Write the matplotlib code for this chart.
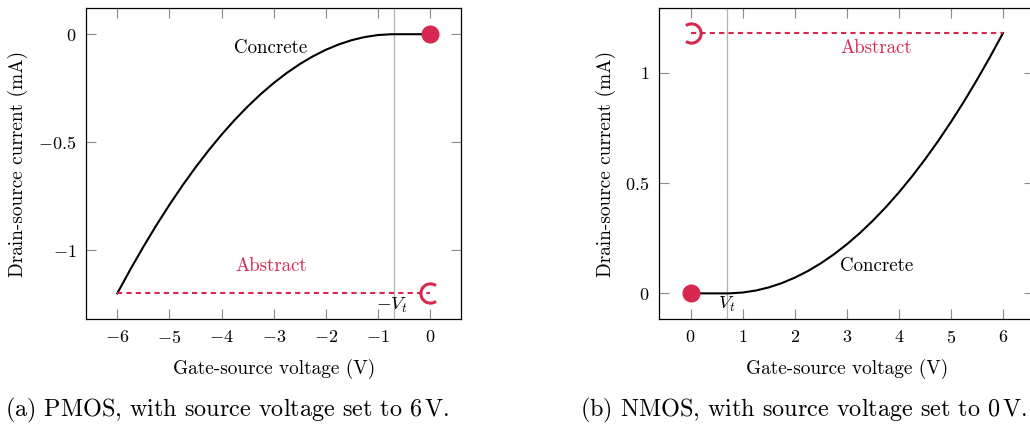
import matplotlib
matplotlib.use("Agg")
import matplotlib.pyplot as plt
from matplotlib.path import Path

plt.rcParams['font.family'] = 'serif'
plt.rcParams['font.serif'] = ['cmr10']
plt.rcParams['mathtext.fontset'] = 'cm'
plt.rcParams['axes.formatter.use_mathtext'] = True
plt.rcParams['axes.unicode_minus'] = True

RED = '#D7294F'

# gate-source voltage magnitudes (V)
vgs = [0, 0.7, 0.75, 1.0, 1.25, 1.5, 1.75, 2.0, 2.25, 2.5, 2.75, 3.0, 3.25,
       3.5, 3.75, 4.0, 4.25, 4.5, 4.75, 5.0, 5.25, 5.5, 5.75, 6.0]
# PMOS drain-source current (mA), negative
ids_p = [0, 0, -0.0001, -0.0038, -0.0129, -0.0273, -0.0471, -0.0722, -0.1026,
         -0.1384, -0.1795, -0.2260, -0.2778, -0.3349, -0.3974, -0.4652,
         -0.5384, -0.6169, -0.7007, -0.7899, -0.8844, -0.9843, -1.0895, -1.2]
# NMOS drain-source current (mA)
ids_n = [0, 0, 0.0001, 0.0038, 0.0127, 0.0269, 0.0463, 0.0710, 0.1009, 0.1361,
         0.1765, 0.2222, 0.2732, 0.3294, 0.3908, 0.4575, 0.5294, 0.6066,
         0.6891, 0.7768, 0.8697, 0.9679, 1.0714, 1.18]
vt = 0.7
abstract_p = -1.2
abstract_n = 1.18

xticks_p = [-6, -5, -4, -3, -2, -1, 0]
xticks_n = [0, 1, 2, 3, 4, 5, 6]
yticks_p = [0, -0.5, -1]
yticks_n = [0, 0.5, 1]

fig = plt.figure(figsize=(10.3, 4.26), dpi=100)
axp = fig.add_axes([0.0835, 0.2505, 0.3644, 0.730])
axn = fig.add_axes([0.6401, 0.2505, 0.3640, 0.730])

c_open = Path.arc(55, 305)      # "C" shape, opening right
rc_open = Path.arc(-125, 125)   # reversed C, opening left

FS = 13.6


def style(ax):
    ax.tick_params(direction='in', length=7, width=0.8, color='0.55',
                   top=True, right=True, labelsize=13, pad=7)
    for s in ax.spines.values():
        s.set_linewidth(0.9)
    ax.set_xlabel('Gate-source voltage (V)', fontsize=13.9, labelpad=9)
    ax.set_ylabel('Drain-source current (mA)', fontsize=13.9, labelpad=7)


# (a) PMOS
xp = [-v for v in vgs]
axp.axvline(-vt, color='0.7', lw=0.9)
axp.plot(xp, ids_p, color='black', lw=1.5)
axp.plot([-6, 0], [abstract_p, abstract_p], color=RED, lw=1.5,
         dashes=(2.5, 2))
axp.plot([0], [0], 'o', color=RED, ms=12, zorder=5)
axp.plot([0], [abstract_p], marker=c_open, ms=14, mfc='none', mec=RED,
         mew=2.2, zorder=5)
axp.text(-3.05, -0.065, 'Concrete', fontsize=FS, ha='center', va='center')
axp.text(-3.05, -1.074, 'Abstract', fontsize=FS, ha='center', va='center',
         color=RED)
axp.text(-0.72, -1.255, r'$-V_t$', fontsize=FS, ha='center', va='center')
axp.set_xlim(-6.6, 0.6)
axp.set_ylim(-1.32, 0.12)
axp.set_xticks(xticks_p)
axp.set_yticks(yticks_p)
axp.set_yticklabels(['$0$', '$-0.5$', '$-1$'])
style(axp)

# (b) NMOS
axn.axvline(vt, color='0.7', lw=0.9)
axn.plot(vgs, ids_n, color='black', lw=1.5)
axn.plot([0, 6], [abstract_n, abstract_n], color=RED, lw=1.5,
         dashes=(2.5, 2))
axn.plot([0], [0], 'o', color=RED, ms=12, zorder=5)
axn.plot([0], [abstract_n], marker=rc_open, ms=14, mfc='none', mec=RED,
         mew=2.2, zorder=5)
axn.text(3.57, 0.124, 'Concrete', fontsize=FS, ha='center', va='center')
axn.text(3.57, 1.113, 'Abstract', fontsize=FS, ha='center', va='center',
         color=RED)
axn.text(0.69, -0.05, r'$V_t$', fontsize=FS, ha='center', va='center')
axn.set_xlim(-0.6, 6.6)
axn.set_ylim(-0.1175, 1.2925)
axn.set_xticks(xticks_n)
axn.set_yticks(yticks_n)
axn.set_yticklabels(['$0$', '$0.5$', '$1$'])
style(axn)

fig.text(5 / 1030, 1 - 410 / 426, r'(a) PMOS, with source voltage set to 6$\,$V.',
         fontsize=17.4, ha='left', va='center')
fig.text(580 / 1030, 1 - 410 / 426, r'(b) NMOS, with source voltage set to 0$\,$V.',
         fontsize=17.4, ha='left', va='center')

fig.savefig('out.png', dpi=100)
